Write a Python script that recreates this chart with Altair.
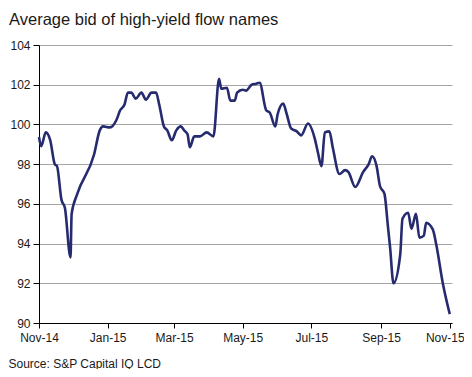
import altair as alt
import pandas as pd

dates = [
    "2014-11-01", "2014-11-03", "2014-11-07", "2014-11-11", "2014-11-15", "2014-11-17",
    "2014-11-21", "2014-11-24", "2014-11-29", "2014-11-30", "2014-12-05", "2014-12-20",
    "2014-12-25", "2014-12-28", "2015-01-03", "2015-01-09", "2015-01-12", "2015-01-16",
    "2015-01-19", "2015-01-22", "2015-01-26", "2015-01-31", "2015-02-04", "2015-02-09",
    "2015-02-13", "2015-02-16", "2015-02-20", "2015-02-23", "2015-02-27",
    "2015-03-03", "2015-03-07", "2015-03-10", "2015-03-13", "2015-03-15", "2015-03-19",
    "2015-03-24", "2015-03-30", "2015-04-05", "2015-04-10", "2015-04-12", "2015-04-17",
    "2015-04-20", "2015-04-24", "2015-04-26", "2015-05-01", "2015-05-04", "2015-05-09",
    "2015-05-13", "2015-05-16", "2015-05-22", "2015-05-25", "2015-05-30", "2015-06-01",
    "2015-06-06", "2015-06-09", "2015-06-13", "2015-06-18", "2015-06-22", "2015-06-28",
    "2015-07-04", "2015-07-07", "2015-07-10", "2015-07-13", "2015-07-17", "2015-07-20",
    "2015-07-26", "2015-07-31", "2015-08-03", "2015-08-09", "2015-08-16", "2015-08-21",
    "2015-08-24", "2015-08-28", "2015-08-31", "2015-09-04", "2015-09-07", "2015-09-09",
    "2015-09-12", "2015-09-18", "2015-09-20", "2015-09-25", "2015-09-28", "2015-10-02",
    "2015-10-05", "2015-10-09", "2015-10-11", "2015-10-17", "2015-10-20", "2015-10-26",
    "2015-11-01",
]
bids = [
    99.37, 98.9, 99.6, 99.2, 98.0, 97.9,
    96.2, 95.8, 93.3, 95.5, 96.5, 98.5,
    99.7, 99.9, 99.85, 100.25, 100.7, 101.0,
    101.6, 101.6, 101.3, 101.6, 101.25, 101.6,
    101.6, 100.95, 99.9, 99.7, 99.2,
    99.7, 99.9, 99.7, 99.5, 98.85, 99.4,
    99.4, 99.6, 99.4, 102.3, 101.8, 101.85,
    101.2, 101.2, 101.6, 101.75, 101.7, 102.0,
    102.05, 102.1, 100.7, 100.6, 99.9, 100.5,
    101.05, 100.55, 99.8, 99.65, 99.45, 100.05,
    99.3, 98.55, 97.9, 99.6, 99.65, 98.85,
    97.5, 97.7, 97.6, 96.85, 97.6, 98.0,
    98.4, 97.9, 96.9, 96.5, 94.9, 93.8,
    92.0, 93.45, 95.25, 95.55, 94.75, 95.5,
    94.3, 94.4, 95.05, 94.7, 93.95, 91.95,
    90.45,
]

df = pd.DataFrame({"date": pd.to_datetime(dates), "bid": bids})

FONT = "Liberation Sans"

tick_dates = [
    alt.DateTime(year=2014, month=11, date=1),
    alt.DateTime(year=2015, month=1, date=1),
    alt.DateTime(year=2015, month=3, date=1),
    alt.DateTime(year=2015, month=5, date=1),
    alt.DateTime(year=2015, month=7, date=1),
    alt.DateTime(year=2015, month=9, date=1),
    alt.DateTime(year=2015, month=11, date=1),
]

chart = alt.Chart(df).mark_line(
    color="#262B6F", strokeWidth=2.6, interpolate="monotone"
).encode(
    x=alt.X(
        "date:T",
        scale=alt.Scale(domain=[alt.DateTime(year=2014, month=11, date=1),
                                alt.DateTime(year=2015, month=11, date=3)]),
        axis=alt.Axis(
            values=tick_dates, format="%b-%y", grid=False,
            domainColor="#000000", tickColor="#000000", tickSize=5,
            labelFont=FONT, labelFontSize=12, labelColor="#1a1a1a", labelPadding=4,
            labelFlush=False, labelOverlap=False,
            labelOffset={"condition": {"test": "datum.value > 1443000000000", "value": -5},
                         "value": 0},
            title="Source: S&P Capital IQ LCD", titleFont=FONT, titleFontSize=12,
            titleFontWeight="normal", titleColor="#1a1a1a", titleAnchor="start",
            titleAlign="left", titleBaseline="alphabetic", titleX=-31, titleY=44,
        ),
    ),
    y=alt.Y(
        "bid:Q",
        scale=alt.Scale(domain=[90, 104], nice=False, zero=False),
        axis=alt.Axis(
            values=[90, 92, 94, 96, 98, 100, 102, 104], grid=True,
            gridColor="#a6a6a6", gridWidth=1,
            domainColor="#000000", tickColor="#000000", tickSize=6,
            labelFont=FONT, labelFontSize=12, labelColor="#1a1a1a", labelPadding=3,
            title=None,
        ),
    ),
).properties(
    width=413,
    height=278,
    padding={"left": 31, "top": 37, "right": 12, "bottom": 46},
    autosize=alt.AutoSizeParams(type="none"),
    title=alt.TitleParams(
        "Average bid of high-yield flow names",
        font=FONT, fontSize=16.5, fontWeight="normal", color="#1a1a1a",
        anchor="start", frame="group", dx=-30, dy=10, baseline="alphabetic", offset=8,
    ),
).configure_view(stroke=None)

chart.save("out.html", embed_options={"renderer": "svg", "actions": False})
